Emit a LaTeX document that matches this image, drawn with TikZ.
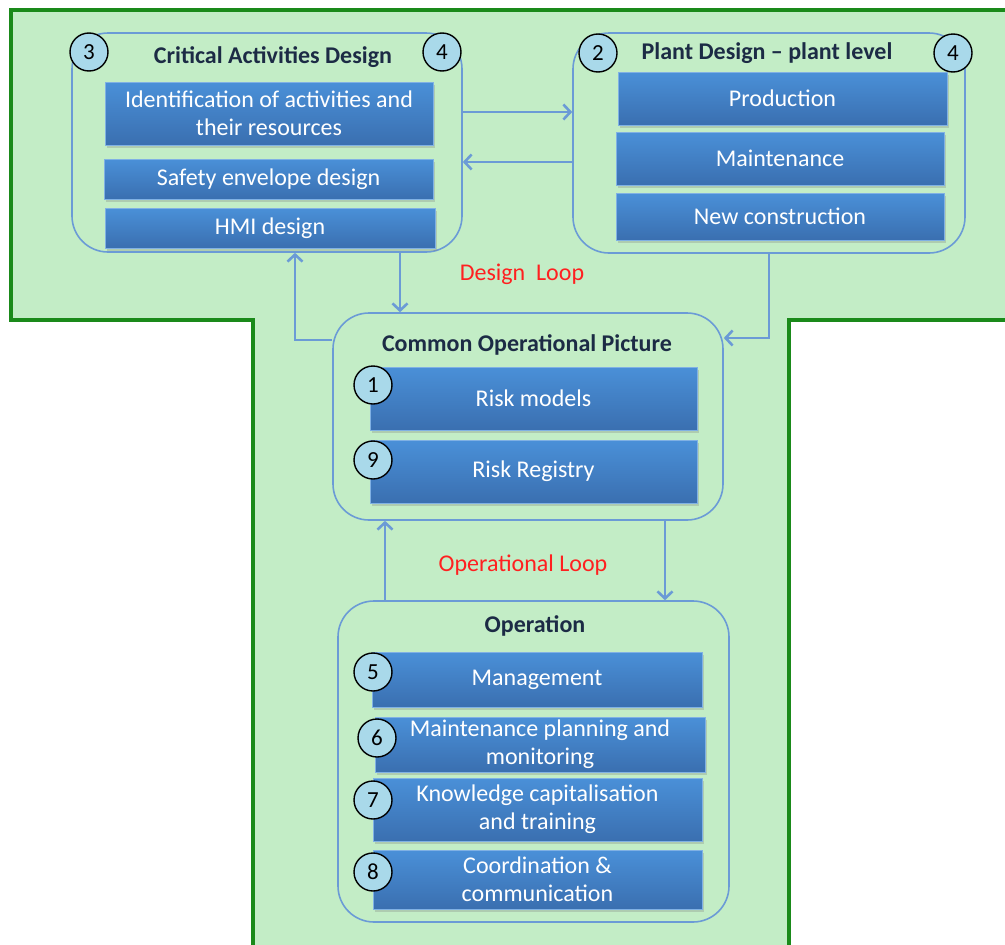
\documentclass[tikz,border=0pt]{standalone}
\usepackage{fontspec}
\setmainfont{Carlito}
\usetikzlibrary{arrows.meta,shadows,calc}
\definecolor{tgreen}{HTML}{C3EDC6}
\definecolor{tborder}{HTML}{1A8A1A}
\definecolor{boxline}{HTML}{6B9BD6}
\definecolor{btop}{HTML}{4A90D8}
\definecolor{bbot}{HTML}{3A6FB0}
\definecolor{circfill}{HTML}{A9D9EA}
\definecolor{titlecol}{HTML}{1C2B45}
\definecolor{loopred}{HTML}{FF2020}
\begin{document}
\begin{tikzpicture}[x=1pt,y=-1pt,
  group/.style={draw=boxline,line width=1.6pt,rounded corners=36pt,inner sep=0pt},
  bluebox/.style={top color=btop, bottom color=bbot, draw=btop!70!white, line width=0.6pt,
    inner sep=0pt, text=white, align=center, font=\fontsize{24}{28}\selectfont,
    drop shadow={opacity=0.3,shadow xshift=1.5pt,shadow yshift=-2.5pt}},
  num/.style={circle, draw=black, line width=1.4pt, fill=circfill, minimum size=38pt,
    inner sep=0pt, font=\fontsize{23}{26}\selectfont, text=black},
  grouptitle/.style={font=\bfseries\fontsize{24}{28}\selectfont, text=titlecol, inner sep=0pt},
  looplabel/.style={font=\fontsize{24}{28}\selectfont, text=loopred, inner sep=0pt},
  conn/.style={draw=boxline, line width=2.6pt, -{Straight Barb[length=7pt,width=15pt]}}
]
\useasboundingbox (0,0) rectangle (1005,945);
\fill[white] (0,0) rectangle (1005,945);
\begin{scope}
\clip (0,0) rectangle (1005,945);
% green T shape
\fill[tgreen] (253,960) -- (253,320) -- (11,320) -- (11,10) -- (1020,10) -- (1020,320) -- (789,320) -- (789,960) -- cycle;
\draw[tborder,line width=4pt,line join=miter] (253,960) -- (253,320) -- (11,320) -- (11,10) -- (1020,10);
\draw[tborder,line width=4pt,line join=miter] (1020,320) -- (789,320) -- (789,960);
\end{scope}

% group boxes
\node[group, minimum width=390pt, minimum height=219pt] (crit) at (267,142.5) {};
\node[group, minimum width=392pt, minimum height=220pt] (plant) at (769,143) {};
\node[group, minimum width=390pt, minimum height=207pt] (cop) at (528,416.5) {};
\node[group, minimum width=391pt, minimum height=321pt] (oper) at (533.5,761.5) {};

% titles
\node[grouptitle] (tcrit) at (273,57) {Critical Activities Design};
\node[grouptitle] (tplant) at (767,53) {Plant Design -- plant level};
\node[grouptitle] (tcop) at (527,345) {Common Operational Picture};
\node[grouptitle] (toper) at (535,626) {Operation};

% loop labels
\node[looplabel] (dloop) at (522,274) {Design\ \ Loop};
\node[looplabel] (oloop) at (523,565) {Operational Loop};

% routing coordinates
\coordinate (ya) at (0,112);
\coordinate (yb) at (0,162);
\coordinate (xa) at (400,0);
\coordinate (xb) at (295,0);
\coordinate (yc) at (0,340);
\coordinate (xc) at (769,0);
\coordinate (yd) at (0,338);
\coordinate (xd) at (385,0);
\coordinate (xe) at (665,0);

% connectors
\draw[conn] (crit.east |- ya) -- (plant.west |- ya);
\draw[conn] (plant.west |- yb) -- (crit.east |- yb);
\draw[conn] (crit.south -| xa) -- (cop.north -| xa);
\draw[conn] (cop.west |- yc) -| (crit.south -| xb);
\draw[conn] (plant.south -| xc) |- (cop.east |- yd);
\draw[conn] (oper.north -| xd) -- (cop.south -| xd);
\draw[conn] (cop.south -| xe) -- (oper.north -| xe);

% blue boxes
\node[bluebox, minimum width=328pt, minimum height=63pt] (ident) at (269,113.5) {Identification of activities and\\their resources};
\node[bluebox, minimum width=329pt, minimum height=40pt] (safety) at (268.5,179) {Safety envelope design};
\node[bluebox, minimum width=330pt, minimum height=40pt] (hmi) at (270,228) {HMI design};
\node[bluebox, minimum width=329pt, minimum height=53pt] (prod) at (782.5,98.5) {Production};
\node[bluebox, minimum width=328pt, minimum height=53pt] (maint) at (780,158.5) {Maintenance};
\node[bluebox, minimum width=328pt, minimum height=47pt] (newc) at (780,216.5) {New construction};
\node[bluebox, minimum width=327pt, minimum height=63pt] (riskm) at (533.5,398.5) {Risk models};
\node[bluebox, minimum width=327pt, minimum height=63pt] (riskr) at (533.5,471.5) {Risk Registry};
\node[bluebox, minimum width=330pt, minimum height=55pt] (mgmt) at (537,679.5) {Management};
\node[bluebox, minimum width=330pt, minimum height=55pt] (mplan) at (540,744.5) {Maintenance planning and\\monitoring};
\node[bluebox, minimum width=329pt, minimum height=63pt] (know) at (537.5,809.5) {Knowledge capitalisation\\and training};
\node[bluebox, minimum width=329pt, minimum height=59pt] (coord) at (537.5,879.5) {Coordination \&\\communication};

% number circles
\node[num] (n3) at (89,52) {3};
\node[num] (n4a) at (442,52) {4};
\node[num] (n2) at (598,53) {2};
\node[num] (n4b) at (953,53) {4};
\node[num] (n1) at (373,385) {1};
\node[num] (n9) at (373,460) {9};
\node[num] (n5) at (373,672) {5};
\node[num] (n6) at (377,738) {6};
\node[num] (n7) at (373,800) {7};
\node[num] (n8) at (373,872) {8};
\end{tikzpicture}
\end{document}
